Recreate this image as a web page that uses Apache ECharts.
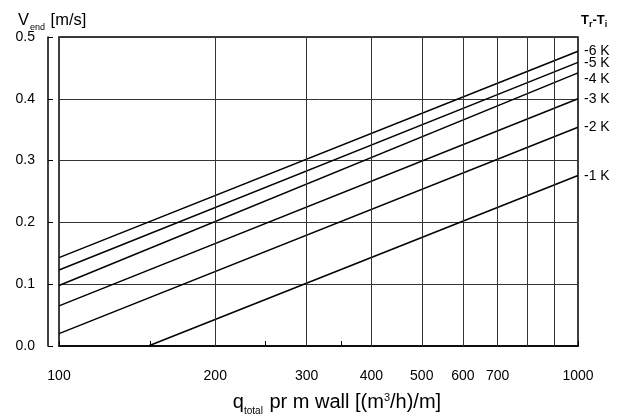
<!DOCTYPE html>
<html>
<head>
<meta charset="utf-8">
<script src="https://cdn.jsdelivr.net/npm/echarts@6/dist/echarts.min.js"></script>
<style>html,body{margin:0;padding:0;background:#fff}#c{width:623px;height:416px}</style>
</head>
<body>
<div id="c"></div>
<script>
// ---- data ----
const seriesNames = ['-6 K', '-5 K', '-4 K', '-3 K', '-2 K', '-1 K'];
const xStart = [100, 100, 100, 100, 100, 148.6];
const yStart = [0.143, 0.123, 0.098, 0.065, 0.020, 0.0];
const xEnd = [1000, 1000, 1000, 1000, 1000, 1000];
const yEnd = [0.477, 0.459, 0.442, 0.400, 0.354, 0.276];
const xTickValues = [100, 150, 200, 250, 300, 350, 400, 500, 600, 700, 800, 900, 1000];
const xLabelValues = [100, 200, 300, 400, 500, 600, 700, 1000];
const xGridValues = [200, 300, 400, 500, 600, 700, 800, 900];

const FONT = '"Liberation Sans", Arial, Helvetica, sans-serif';
const labelDy = [0, 1, 6, 0, 0, 1];

const chart = echarts.init(document.getElementById('c'), null, {renderer: 'canvas'});

const series = seriesNames.map((name, i) => ({
  name: name,
  type: 'line',
  data: [[xStart[i], yStart[i]], [xEnd[i], yEnd[i]]],
  symbol: 'none',
  silent: true,
  animation: false,
  lineStyle: {color: '#000', width: 1.5},
  endLabel: {
    show: true,
    formatter: name,
    color: '#000',
    fontSize: 14,
    fontFamily: FONT,
    distance: 6,
    offset: [0, labelDy[i]]
  },
  markLine: i === 0 ? {
    silent: true,
    symbol: 'none',
    animation: false,
    label: {show: false},
    lineStyle: {color: '#333', width: 1, type: 'solid'},
    data: xGridValues.map(v => ({xAxis: v}))
  } : undefined
}));

chart.setOption({
  animation: false,
  backgroundColor: '#fff',
  grid: {left: 59, right: 45, top: 37, bottom: 70, show: true, borderColor: '#000', borderWidth: 1.5, backgroundColor: 'transparent'},
  xAxis: {
    type: 'log',
    logBase: 10,
    min: 100,
    max: 1000,
    offset: 13,
    axisLine: {show: true, lineStyle: {color: '#000', width: 1.5}},
    axisTick: {show: true, inside: true, length: 5, customValues: xTickValues, lineStyle: {color: '#000', width: 1}},
    axisLabel: {customValues: xLabelValues, color: '#000', fontSize: 14, fontFamily: FONT, margin: 10, formatter: v => String(Math.round(v))},
    splitLine: {show: false},
    minorTick: {show: false},
    minorSplitLine: {show: false}
  },
  yAxis: {
    type: 'value',
    min: 0,
    max: 0.5,
    interval: 0.1,
    offset: 11,
    axisLine: {show: true, lineStyle: {color: '#000', width: 1.5}},
    axisTick: {show: true, inside: true, length: 5, lineStyle: {color: '#000', width: 1}},
    axisLabel: {color: '#000', fontSize: 14, fontFamily: FONT, margin: 13, formatter: v => v.toFixed(1)},
    splitLine: {show: true, lineStyle: {color: '#333', width: 1}}
  },
  series: series,
  graphic: [
    {
      type: 'text', x: 18, y: 20,
      style: {
        text: '{v|V}{s|end}{v| [m/s]}',
        textVerticalAlign: 'middle',
        rich: {
          v: {fontSize: 16.5, fontFamily: FONT, fill: '#000', verticalAlign: 'bottom'},
          s: {fontSize: 9, fontFamily: FONT, fill: '#000', verticalAlign: 'bottom', padding: [0, 1, -4, 1]}
        }
      }
    },
    {
      type: 'text', x: 581, y: 20,
      style: {
        text: '{t|T}{s|r}{t|-T}{s|i}',
        textVerticalAlign: 'middle',
        rich: {
          t: {fontSize: 13, fontWeight: 'bold', fontFamily: FONT, fill: '#000', verticalAlign: 'bottom'},
          s: {fontSize: 9, fontWeight: 'bold', fontFamily: FONT, fill: '#000', verticalAlign: 'bottom', padding: [0, 0, -3, 0]}
        }
      }
    },
    {
      type: 'text', x: 337, y: 402,
      style: {
        text: '{m|q}{s|total}{m| pr m wall [(m}{p|3}{m|/h)/m]}',
        textAlign: 'center',
        textVerticalAlign: 'middle',
        rich: {
          m: {fontSize: 20, fontFamily: FONT, fill: '#000', verticalAlign: 'bottom'},
          s: {fontSize: 10, fontFamily: FONT, fill: '#000', verticalAlign: 'bottom', padding: [0, 1, -4, 0]},
          p: {fontSize: 11, fontFamily: FONT, fill: '#000', verticalAlign: 'top', padding: [0, 0, 0, 0]}
        }
      }
    }
  ]
});
</script>
</body>
</html>
